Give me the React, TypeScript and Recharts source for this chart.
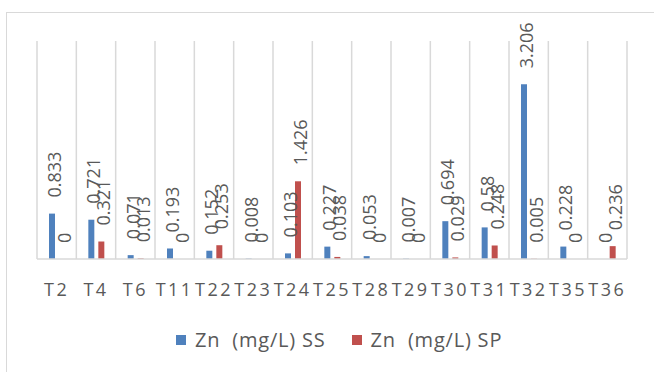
import { BarChart, Bar, XAxis, YAxis, CartesianGrid, LabelList } from "recharts";

const categories = ["T2", "T4", "T6", "T11", "T22", "T23", "T24", "T25", "T28", "T29", "T30", "T31", "T32", "T35", "T36"];
const ssValues = [0.833, 0.721, 0.071, 0.193, 0.152, 0.008, 0.103, 0.227, 0.053, 0.007, 0.694, 0.58, 3.206, 0.228, 0];
const spValues = [0, 0.321, 0.013, 0, 0.253, 0, 1.426, 0.038, 0, 0, 0.029, 0.248, 0.005, 0, 0.236];
const seriesNames = ["Zn  (mg/L) SS", "Zn  (mg/L) SP"];
const seriesColors = ["#4F81BD", "#C0504D"];

const data = categories.map((name, i) => ({ name, ss: ssValues[i], sp: spValues[i] }));

const FONT = "'Open Sans', sans-serif";
const TEXT = "#595959";
const GRID = "#d9d9d9";

function RotatedLabel(props: any) {
  const { x, y, width, height, value } = props;
  const cx = x + width / 2 + 2;
  // bar top (height may be a tiny min size for zero values)
  const top = Math.min(y, y + height);
  const cy = top - 16;
  return (
    <text
      x={cx}
      y={cy}
      transform={`rotate(-90, ${cx}, ${cy})`}
      textAnchor="start"
      dominantBaseline="central"
      fill={TEXT}
      fontSize={18}
      fontFamily={FONT}
    >
      {String(value)}
    </text>
  );
}

function CategoryTick(props: any) {
  const { x, y, payload } = props;
  return (
    <text
      x={x}
      y={y + 28}
      textAnchor="middle"
      dominantBaseline="central"
      fill={TEXT}
      fontSize={18}
      fontFamily={FONT}
      letterSpacing={2.5}
    >
      {payload.value}
    </text>
  );
}

// zero bars still need their "0" label, so give them a hairline height
const tinyForZero = (v: any) => (v === 0 ? 0.01 : 0);

export default function App() {
  return (
    <div style={{ position: "absolute", left: 0, top: 0, width: 654, height: 372, overflow: "hidden", background: "#fff" }}>
      <div
        style={{
          position: "absolute",
          left: 6,
          top: 12,
          width: 700,
          height: 400,
          borderTop: `1.5px solid ${GRID}`,
          borderLeft: `1.5px solid ${GRID}`,
        }}
      />
      <div style={{ position: "absolute", left: 0, top: 0 }}>
        <BarChart
          width={654}
          height={372}
          data={data}
          margin={{ top: 41, right: 27, left: 37, bottom: 73 }}
          barSize={6}
          barGap={4}
        >
          <CartesianGrid
            horizontal={false}
            stroke={GRID}
            strokeWidth={1.5}
            verticalCoordinatesGenerator={({ offset }: any) =>
              Array.from({ length: categories.length + 1 }, (_, i) => offset.left + (i * offset.width) / categories.length)
            }
          />
          <XAxis
            dataKey="name"
            height={40}
            tickLine={false}
            tickSize={0}
            axisLine={{ stroke: GRID, strokeWidth: 1.5 }}
            tick={<CategoryTick />}
            interval={0}
          />
          <YAxis hide domain={[0, 4]} />
          <Bar dataKey="ss" fill={seriesColors[0]} isAnimationActive={false} minPointSize={tinyForZero}>
            <LabelList dataKey="ss" content={<RotatedLabel />} />
          </Bar>
          <Bar dataKey="sp" fill={seriesColors[1]} isAnimationActive={false} minPointSize={tinyForZero}>
            <LabelList dataKey="sp" content={<RotatedLabel />} />
          </Bar>
        </BarChart>
      </div>
      <div
        style={{
          position: "absolute",
          left: 176,
          top: 326,
          display: "flex",
          alignItems: "center",
          fontFamily: FONT,
          fontSize: 20,
          letterSpacing: 0.8,
          color: TEXT,
          whiteSpace: "pre",
        }}
      >
        {seriesNames.map((n, i) => (
          <div key={n} style={{ display: "flex", alignItems: "center", marginRight: i === 0 ? 26 : 0 }}>
            <span style={{ width: 10, height: 10, background: seriesColors[i], marginRight: 9, display: "inline-block" }} />
            <span>{n}</span>
          </div>
        ))}
      </div>
    </div>
  );
}
